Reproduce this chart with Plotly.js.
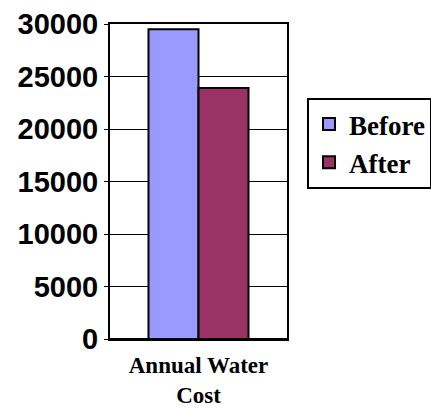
<!DOCTYPE html>
<html><head><meta charset="utf-8">
<script src="https://cdn.plot.ly/plotly-3.0.1.min.js"></script>
<style>html,body{margin:0;padding:0;background:#fff;overflow:hidden}</style>
</head><body>
<div id="chart" style="width:431px;height:409px"></div>
<script>
const categories = ["Annual Water<br>Cost"];
const seriesNames = ["Before", "After"];
const beforeValues = [29500];
const afterValues = [23900];
const yTickVals = [0, 5000, 10000, 15000, 20000, 25000, 30000];

const data = [
  {type:'bar', name:seriesNames[0], x:categories, y:beforeValues,
   marker:{color:'#9999ff', line:{color:'#000', width:2}}},
  {type:'bar', name:seriesNames[1], x:categories, y:afterValues,
   marker:{color:'#993366', line:{color:'#000', width:2}}}
];
const layout = {
  width:431, height:409,
  margin:{l:110, r:144, t:24, b:70, autoexpand:false},
  paper_bgcolor:'#fff', plot_bgcolor:'#fff',
  barmode:'group', bargap:0.435, bargroupgap:0,
  showlegend:true,
  legend:{x:1.113, y:0.765, xanchor:'left', yanchor:'top',
    bordercolor:'#000', borderwidth:2, bgcolor:'#fff',
    font:{family:'Liberation Serif', size:27, color:'#000', weight:700},
    tracegroupgap:10, itemwidth:30},
  xaxis:{type:'category', showline:true, mirror:true, linecolor:'#000', linewidth:2,
    ticks:'', ticklabelstandoff:4,
    tickfont:{family:'Liberation Serif', size:23, color:'#000', weight:700}},
  yaxis:{range:[0,30000], tickvals:yTickVals, ticktext:yTickVals.map(String),
    showline:true, mirror:true, linecolor:'#000', linewidth:2,
    showgrid:true, gridcolor:'#000', gridwidth:1,
    zeroline:true, zerolinecolor:'#000', zerolinewidth:3,
    ticks:'outside', ticklen:4, tickcolor:'#000',
    tickfont:{family:'Liberation Sans', size:29, color:'#000', weight:700}}
};
Plotly.newPlot('chart', data, layout, {displayModeBar:false, staticPlot:true});
</script>
</body></html>
